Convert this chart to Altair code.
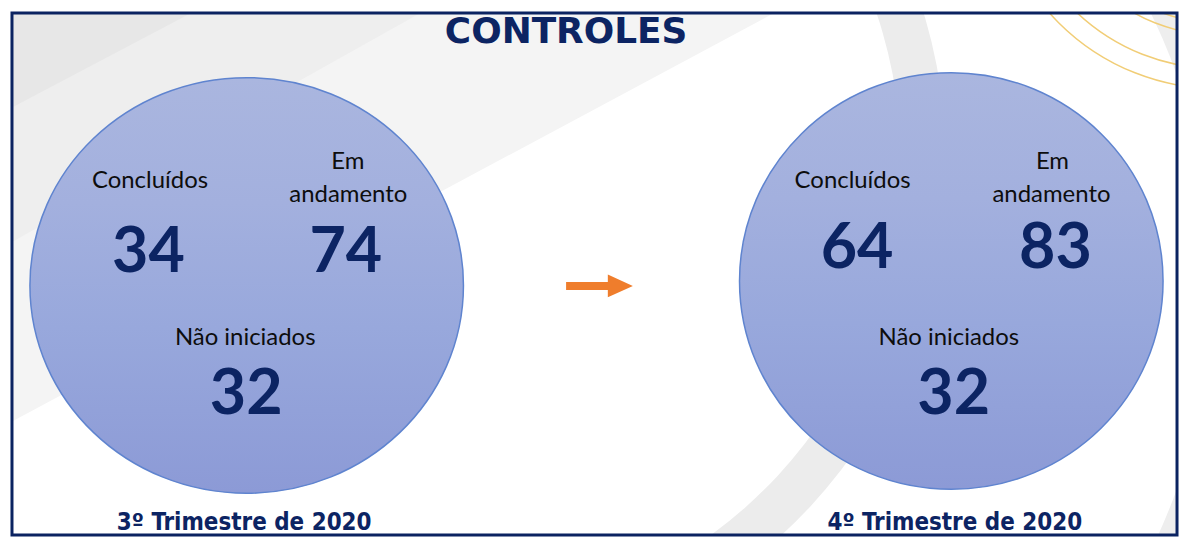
import altair as alt
import pandas as pd

# ---------------- data ----------------
title_text = "CONTROLES"
quarters = ["3º Trimestre de 2020", "4º Trimestre de 2020"]
concluidos = [34, 64]
em_andamento = [74, 83]
nao_iniciados = [32, 32]
label_concluidos = "Concluídos"
label_andamento = ["Em", "andamento"]
label_nao = "Não iniciados"

# ---------------- layout (page pixels) ----------------
PAD = 2
X0, Y0 = 8 + PAD, 8 + PAD
W, H = 1169, 524
xs = alt.Scale(domain=[X0, X0 + W], nice=False, zero=False)
ys = alt.Scale(domain=[Y0, Y0 + H], nice=False, zero=False, reverse=True)

NAVY = "#0c2463"
circle_cx = [245.5, 952.5]
circle_cy = [283.5, 279.0]
circle_w = [435, 425]
circle_h = [417, 418]

conc_pos = [(148.5, 186), (853.5, 186)]
em_pos = [(347, 167), (1054, 167)]
and_pos = [(347.5, 200), (1053, 200)]
conc_num_pos = [(147, 270), (858, 266)]
and_num_pos = [(345, 270), (1057, 266)]
nao_pos = [(244, 343), (950, 343)]
nao_num_pos = [(245, 412), (955, 412)]
quarter_pos = [(243, 529), (956, 529)]
title_pos = (566, 40)
arrow_pos = (599.5, 284)


def ellipse_path(ry):
    k = 0.5523
    return (f"M1,0 C1,{k*ry:.4f} {k},{ry:.4f} 0,{ry:.4f} "
            f"C{-k},{ry:.4f} -1,{k*ry:.4f} -1,0 "
            f"C-1,{-k*ry:.4f} {-k},{-ry:.4f} 0,{-ry:.4f} "
            f"C{k},{-ry:.4f} 1,{-k*ry:.4f} 1,0 Z")


def X(f="x"):
    return alt.X(f"{f}:Q", scale=xs, axis=None)


def Y(f="y"):
    return alt.Y(f"{f}:Q", scale=ys, axis=None)


# ---------------- background decorations ----------------
bands = [
    ("#f4f4f4", [(X0, Y0, 420), (775, Y0, Y0)]),
    ("#eeeeee", [(X0, Y0, 240), (420, Y0, Y0)]),
    ("#e7e7e7", [(X0, Y0, 105), (190, Y0, Y0)]),
]
band_layers = []
for col, pts in bands:
    df = pd.DataFrame(pts, columns=["x", "yt", "yb"])
    band_layers.append(
        alt.Chart(df).mark_area(color=col, clip=True).encode(
            x=X(), y=Y("yt"), y2="yb:Q"
        )
    )

arc1 = alt.Chart(pd.DataFrame({"x": [438], "y": [159]})).mark_arc(
    radius=509, radius2=464, theta=1.1, theta2=2.6, color="#ececec", clip=True
).encode(x=X(), y=Y())
arc2 = alt.Chart(pd.DataFrame({"x": [600], "y": [280]})).mark_arc(
    radius=700, radius2=615, theta=0.9, theta2=2.3, color="#eeeeee", clip=True
).encode(x=X(), y=Y())

gold_df = pd.DataFrame({"x": [1220] * 4, "y": [-140] * 4,
                        "s": [(2 * r) ** 2 for r in [160, 172, 206, 226]]})
gold = alt.Chart(gold_df).mark_point(
    shape="circle", filled=False, stroke="#f1cd76", strokeWidth=1.5,
    opacity=1, clip=True
).encode(x=X(), y=Y(), size=alt.Size("s:Q", scale=None, legend=None))

# ---------------- circles ----------------
circ_df = pd.DataFrame({
    "x": circle_cx, "y": circle_cy,
    "s": [w ** 2 for w in circle_w],
    "shape": [ellipse_path(h / w) for w, h in zip(circle_w, circle_h)],
    "q": quarters,
})
grad = alt.Gradient(
    gradient="linear", x1=0, y1=0, x2=0, y2=1,
    stops=[alt.GradientStop(color="#aab6df", offset=0),
           alt.GradientStop(color="#a3b0de", offset=0.3),
           alt.GradientStop(color="#98a8dc", offset=0.6),
           alt.GradientStop(color="#8c9ad6", offset=1)],
)
circles = alt.Chart(circ_df).mark_point(
    filled=True, fill=grad, stroke="#5f84cf", strokeWidth=1.5, opacity=1,
    fillOpacity=1
).encode(
    x=X(), y=Y(),
    size=alt.Size("s:Q", scale=None, legend=None),
    shape=alt.Shape("shape:N", scale=None, legend=None),
)

# ---------------- arrow ----------------
arrow = alt.Chart(pd.DataFrame({"x": [arrow_pos[0]], "y": [arrow_pos[1]]})).mark_point(
    shape="M-1,-0.12 L0.25,-0.12 L0.25,-0.34 L1,0 L0.25,0.34 L0.25,0.12 L-1,0.12 Z",
    size=67 ** 2, filled=True, fill="#ef7d2c", opacity=1
).encode(x=X(), y=Y())

# ---------------- texts ----------------
label_rows = []
num_rows = []
for i in range(2):
    label_rows.append((label_concluidos, *conc_pos[i]))
    label_rows.append((label_andamento[0], *em_pos[i]))
    label_rows.append((label_andamento[1], *and_pos[i]))
    label_rows.append((label_nao, *nao_pos[i]))
    num_rows.append((str(concluidos[i]), *conc_num_pos[i]))
    num_rows.append((str(em_andamento[i]), *and_num_pos[i]))
    num_rows.append((str(nao_iniciados[i]), *nao_num_pos[i]))

labels = alt.Chart(pd.DataFrame(label_rows, columns=["t", "x", "y"])).mark_text(
    font="Lato", fontSize=24, color="#0d0d0d", align="center", baseline="alphabetic"
).encode(x=X(), y=Y(), text="t:N")

numbers = alt.Chart(pd.DataFrame(num_rows, columns=["t", "x", "y"])).mark_text(
    font="Lato", fontSize=63, fontWeight="bold", color=NAVY, align="center",
    baseline="alphabetic"
).encode(x=X(), y=Y(), text="t:N")

qdf = pd.DataFrame({"t": quarters, "x": [p[0] for p in quarter_pos],
                    "y": [p[1] for p in quarter_pos]})
qtext = alt.Chart(qdf).mark_text(
    font="DejaVu Sans Condensed, DejaVu Sans", fontSize=24, fontWeight="bold",
    color=NAVY, align="center", baseline="alphabetic"
).encode(x=X(), y=Y(), text="t:N")

tdf = pd.DataFrame({"t": [title_text], "x": [title_pos[0]], "y": [title_pos[1]]})
title = alt.Chart(tdf).mark_text(
    font="DejaVu Sans", fontSize=36, fontWeight="bold", color=NAVY,
    align="center", baseline="alphabetic"
).encode(x=X(), y=Y(), text="t:N")

# ---------------- frame ----------------
frame = alt.Chart(pd.DataFrame({"k": [0]})).mark_rect(
    fillOpacity=0, stroke="#0b2361", strokeWidth=3
).encode(x=alt.value(0), x2=alt.value(W), y=alt.value(0), y2=alt.value(H))

chart = alt.layer(
    *band_layers, arc1, arc2, gold, circles, arrow, labels, numbers, qtext, title,
    frame
).properties(
    width=W, height=H, padding=PAD, background="white"
).configure_view(
    stroke=None
)

chart.save("out.html", embed_options={"renderer": "svg", "actions": False})
